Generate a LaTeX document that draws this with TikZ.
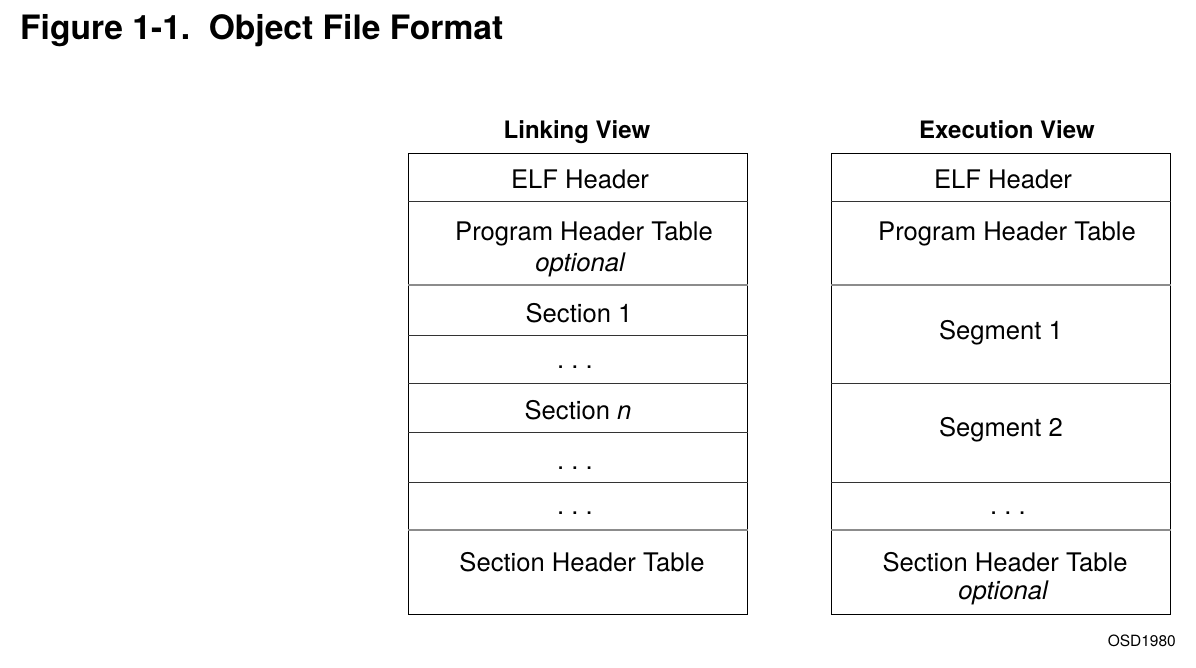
\documentclass[tikz,border=0pt]{standalone}
\usepackage{fontspec}
\setmainfont{TeX Gyre Heros}
\usetikzlibrary{positioning}

\begin{document}
\begin{tikzpicture}[x=1pt, y=-1pt,
    cell/.style={font=\fontsize{25.6}{30}\selectfont, anchor=base, inner sep=0pt},
    view/.style={font=\fontsize{24}{29}\selectfont\bfseries, anchor=base, inner sep=0pt},
    frame/.style={draw=black, line width=1.4pt, minimum width=339, anchor=north west, inner sep=0pt},
    rule/.style={draw=black!80, line width=1pt},
    softrule/.style={draw=black!45, line width=1.6pt}]
    \useasboundingbox (0,0) rectangle (1196,668);

    % title
    \node[anchor=base west, inner sep=0pt, font=\fontsize{33.6}{40}\selectfont\bfseries] (title) at (20,40) {Figure 1-1.\hspace{0.55em}Object File Format};

    % boxes
    \node[frame, minimum height=461] (link) at (408,153) {};
    \node[frame, minimum height=461] (exec) at (831,153) {};

    \node[view] (linkview) at (577,139) {Linking View};
    \node[view] (execview) at (1007,139) {Execution View};

    % row rules
    \foreach \y in {202,335,383,432,482}
        \draw[rule] (link.west |- 0,\y) -- (link.east |- 0,\y);
    \foreach \y in {285,530}
        \draw[softrule] (link.west |- 0,\y) -- (link.east |- 0,\y);
    \foreach \y in {202,383,482}
        \draw[rule] (exec.west |- 0,\y) -- (exec.east |- 0,\y);
    \foreach \y in {285,530}
        \draw[softrule] (exec.west |- 0,\y) -- (exec.east |- 0,\y);

    % linking view entries
    \node[cell] (lelf) at (580,189) {ELF Header};
    \node[cell] (lpht) at (584,241) {Program Header Table};
    \node[cell] (lopt) at (580,272) {\itshape optional};
    \node[cell] (lsec1) at (579,322) {Section 1};
    \node[cell] (ldots1) at (575,368) {.\ .\ .};
    \node[cell] (lsecn) at (578,419) {Section \textit{n}};
    \node[cell] (ldots2) at (575,469) {.\ .\ .};
    \node[cell] (ldots3) at (575,514) {.\ .\ .};
    \node[cell] (lsht) at (582,571) {Section Header Table};

    % execution view entries
    \node[cell] (eelf) at (1003,189) {ELF Header};
    \node[cell] (epht) at (1007,241) {Program Header Table};
    \node[cell] (eseg1) at (1001,339) {Segment 1};
    \node[cell] (eseg2) at (1001,436) {Segment 2};
    \node[cell] (edots) at (1008,514) {.\ .\ .};
    \node[cell] (esht) at (1005,571) {Section Header Table};
    \node[cell] (eopt) at (1003,599) {\itshape optional};

    \node[anchor=base east, inner sep=0pt, font=\fontsize{15.5}{18}\selectfont] (osd) at (1176,646) {OSD1980};
\end{tikzpicture}
\end{document}
